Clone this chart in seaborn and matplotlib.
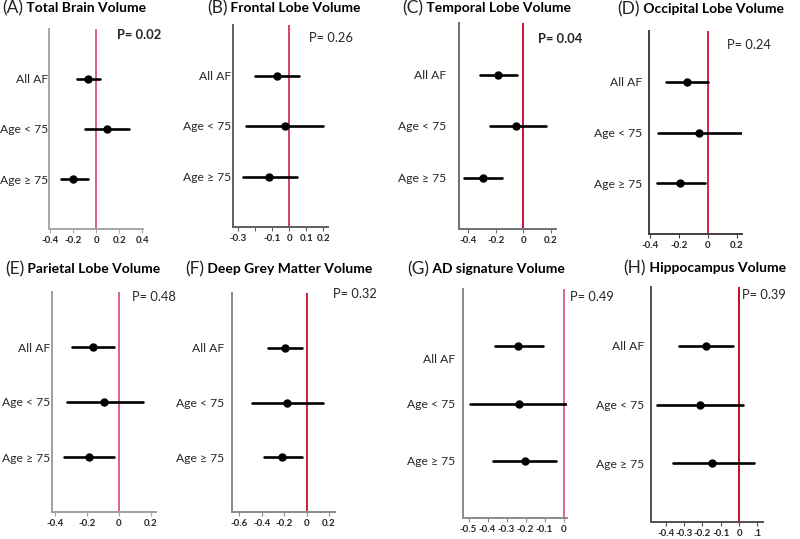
import numpy as np
import pandas as pd
import matplotlib
matplotlib.use("Agg")
import matplotlib.pyplot as plt
import matplotlib.transforms as mtrans
import seaborn as sns

sns.set_theme(style="white")
plt.rcParams['font.family'] = ['Lato', 'DejaVu Sans']

# chart data
groups = ["All AF", "Age < 75", "Age \u2265 75"]
letters = ["A", "B", "C", "D", "E", "F", "G", "H"]
titles = ["Total Brain Volume", "Frontal Lobe Volume", "Temporal Lobe Volume",
          "Occipital Lobe Volume", "Parietal Lobe Volume", "Deep Grey Matter Volume",
          "AD signature Volume", "Hippocampus Volume"]
p_values = ["0.02", "0.26", "0.04", "0.24", "0.48", "0.32", "0.49", "0.39"]
p_bold = [True, False, True, False, False, False, False, False]

est = [[-0.07, 0.09, -0.20], [-0.07, -0.025, -0.115], [-0.18, -0.055, -0.29],
       [-0.145, -0.06, -0.19], [-0.16, -0.09, -0.185], [-0.195, -0.175, -0.215],
       [-0.24, -0.235, -0.205], [-0.18, -0.215, -0.15]]
lo = [[-0.17, -0.10, -0.31], [-0.20, -0.25, -0.27], [-0.315, -0.24, -0.43],
      [-0.29, -0.345, -0.355], [-0.29, -0.325, -0.34], [-0.345, -0.485, -0.38],
      [-0.36, -0.49, -0.37], [-0.33, -0.445, -0.36]]
hi = [[0.035, 0.28, -0.07], [0.06, 0.20, 0.045], [-0.045, 0.165, -0.155],
      [0.005, 0.235, -0.02], [-0.03, 0.15, -0.03], [-0.04, 0.145, -0.045],
      [-0.11, 0.02, -0.04], [-0.035, 0.02, 0.08]]

xticks = [[-0.4, -0.2, 0, 0.2, 0.4], [-0.3, -0.2, -0.1, 0, 0.1, 0.2],
          [-0.4, -0.2, 0, 0.2], [-0.4, -0.2, 0, 0.2], [-0.4, -0.2, 0, 0.2],
          [-0.6, -0.4, -0.2, 0, 0.2], [-0.5, -0.4, -0.3, -0.2, -0.1, 0],
          [-0.4, -0.3, -0.2, -0.1, 0, 0.1]]
xticklabels = [["-0.4", "-0.2", "0", "0.2", "0.4"], ["-0.3", "", "-0.1", "0", "0.1", "0.2"],
               ["-0.4", "-0.2", "0", "0.2"], ["-0.4", "-0.2", "0", "0.2"],
               ["-0.4", "-0.2", "0", "0.2"], ["-0.6", "-0.4", "-0.2", "0", "0.2"],
               ["-0.5", "-0.4", "-0.3", "-0.2", "-0.1", "0"],
               ["-0.4", "-0.3", "-0.2", "-0.1", "0", ".1"]]

# layout (pixels): axes left, right, top, bottom; x limits; label pad (px)
boxes = [(49, 143, 29, 229), (233, 328, 25, 227), (459, 556, 23, 229), (649, 742, 31, 234),
         (52, 156, 292, 512), (232, 335, 293, 512), (463, 567, 289, 518), (651, 763, 287, 522)]
xlims = [(-0.412, 0.405), (-0.329, 0.228), (-0.467, 0.238), (-0.408, 0.238),
         (-0.417, 0.231), (-0.664, 0.253), (-0.529, 0.018), (-0.48, 0.13)]
ypads = [1, 2, 13, 7, 2, 8, 8, 7]
spine_cols = ["#a8a8a8", "#606060", "#707070", "#404040", "#a0a0a0", "#8a8a8a", "#8a8a8a", "#505050"]
ref_cols = ["#e0607a", "#d4425e", "#d01038", "#e0204a", "#d8667e", "#cc1f3f", "#e06680", "#c0102a"]
title_pos = [(2, 8), (207, 8), (402, 8), (617, 9), (5, 269), (185, 269), (407, 269), (623, 268)]
p_pos = [(117, 35), (309, 38), (538, 39), (727, 45), (132, 297), (333, 294), (570, 297), (742, 295)]

W, H = 800, 539
fig = plt.figure(figsize=(8, 5.39), dpi=100)
fig.patch.set_facecolor("white")

for i in range(8):
    l, r, t, b = boxes[i]
    ax = fig.add_axes([l / W, 1 - b / H, (r - l) / W, (b - t) / H])
    df = pd.DataFrame({
        "group": groups * 3,
        "value": lo[i] + est[i] + hi[i],
    })
    # median of (lo, est, hi) is the estimate, full range is the CI
    sns.pointplot(data=df, x="value", y="group", order=groups, estimator="median",
                  errorbar=("pi", 100), linestyle="none", color="black",
                  markersize=4, err_kws={"linewidth": 1.9}, ax=ax)
    ax.axvline(0, color=ref_cols[i], lw=1.4, zorder=1)
    ax.set_xlim(*xlims[i])
    ax.set_ylim(3, -1)
    ax.set_xlabel("")
    ax.set_ylabel("")
    ax.set_facecolor("white")
    for s in ["top", "right"]:
        ax.spines[s].set_visible(False)
    for s in ["left", "bottom"]:
        ax.spines[s].set_color(spine_cols[i])
        ax.spines[s].set_linewidth(1.4)
    ax.set_xticks(xticks[i])
    ax.set_xticklabels(xticklabels[i], fontsize=7, fontweight="bold")
    ax.tick_params(axis="x", bottom=True, length=3, width=0.8, color=spine_cols[i], pad=2)
    ax.tick_params(axis="y", left=False, length=0, pad=ypads[i] * 0.72, labelsize=8.7)
    if i == 6:
        lbl = ax.get_yticklabels()[0]
        lbl.set_transform(lbl.get_transform() +
                          mtrans.ScaledTranslation(0, -12 / 100, fig.dpi_scale_trans))

    tx, ty = title_pos[i]
    let = fig.text(tx / W, 1 - ty / H, "(" + letters[i] + ")", fontsize=12.5,
                   va="center", ha="left", color="#222222")
    ax.annotate(" " + titles[i], xy=(1, 0.5), xycoords=let, va="center", ha="left",
                fontsize=10, fontweight="bold", color="black")

    px, py = p_pos[i]
    fig.text(px / W, 1 - py / H, "P= " + p_values[i], fontsize=9.3, va="center", ha="left",
             fontweight="bold" if p_bold[i] else "normal")

fig.savefig("out.png", dpi=100, facecolor="white")
